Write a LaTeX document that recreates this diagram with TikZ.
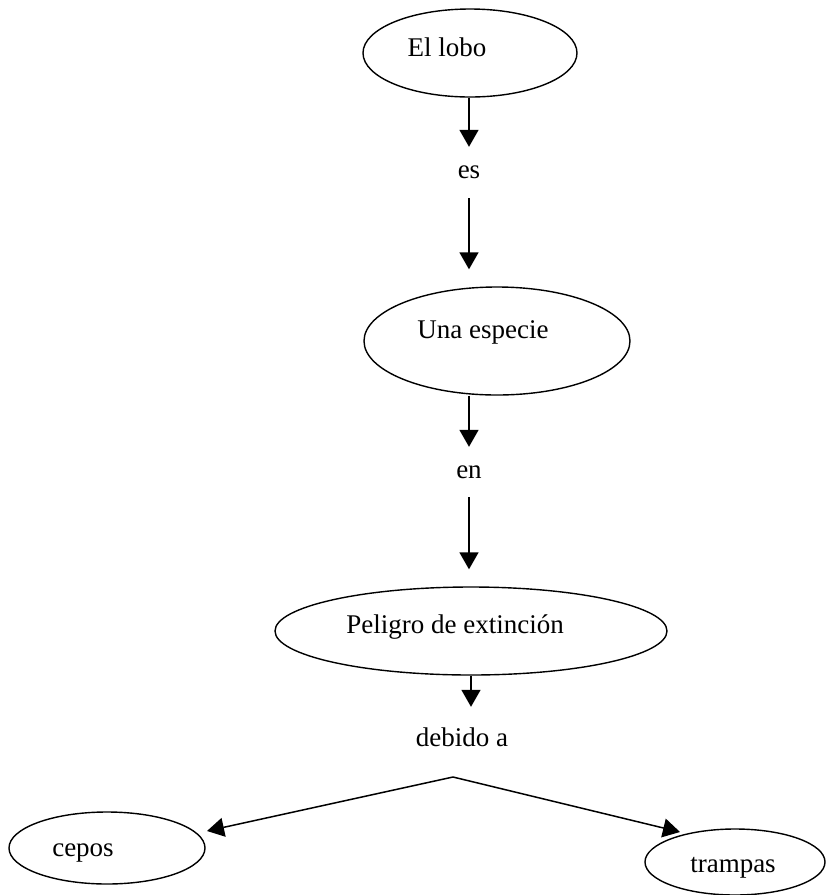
\documentclass[tikz,border=0pt]{standalone}
\usepackage{fontspec}
\setmainfont{Liberation Serif}
\usetikzlibrary{shapes.geometric,arrows.meta,calc}
\begin{document}
\begin{tikzpicture}[x=1pt,y=1pt,
  concept/.style={draw=black,line width=1.4pt,ellipse,inner sep=0pt},
  txt/.style={inner sep=0pt,font=\fontsize{27}{32}\selectfont},
  link/.style={inner sep=0pt,font=\fontsize{27}{32}\selectfont},
  arr/.style={line width=1.5pt,-{Triangle[length=17pt,width=19pt]}}]
\useasboundingbox (0,0) rectangle (835,-895);
% concepts
\node[concept,minimum width=214pt,minimum height=88pt] (lobo) at (470,-53) {};
\node[txt] (lobot) at (447,-47) {El lobo};
\node[concept,minimum width=266pt,minimum height=108pt] (esp) at (497,-341) {};
\node[txt] (espt) at (483,-332) {Una especie};
\node[concept,minimum width=392pt,minimum height=88pt] (pel) at (471,-631) {};
\node[txt] (pelt) at (455,-627) {Peligro de extinción};
\node[concept,minimum width=196pt,minimum height=72pt] (cepos) at (107,-848) {};
\node[txt] (cepost) at (83,-853) {cepos};
\node[concept,minimum width=180pt,minimum height=66pt] (tramp) at (735,-862) {};
\node[txt] (trampt) at (733,-868) {trampas};
% linking words
\node[link,minimum height=51pt] (es) at (469,-172.5) {es};
\node[link,minimum height=50pt] (en) at (469,-472) {en};
\node[link,minimum height=60pt] (deb) at (462,-737) {debido a};
\coordinate (apex) at (453,-777);
\coordinate (ctip) at (207,-831);
\coordinate (ttip) at (680,-832);
% connectors
\draw[arr] (lobo.south -| es) -- (es.north);
\draw[arr,shorten >=17pt] (es.south) -- (es.south |- esp.north);
\draw[arr] (esp.south -| en) -- (en.north);
\draw[arr,shorten >=17pt] (en.south) -- (en.south |- pel.north);
\draw[arr] (pel.south) -- (pel.south |- deb.north);
\draw[arr] (apex) -- (ctip);
\draw[arr] (apex) -- (ttip);
\end{tikzpicture}
\end{document}
